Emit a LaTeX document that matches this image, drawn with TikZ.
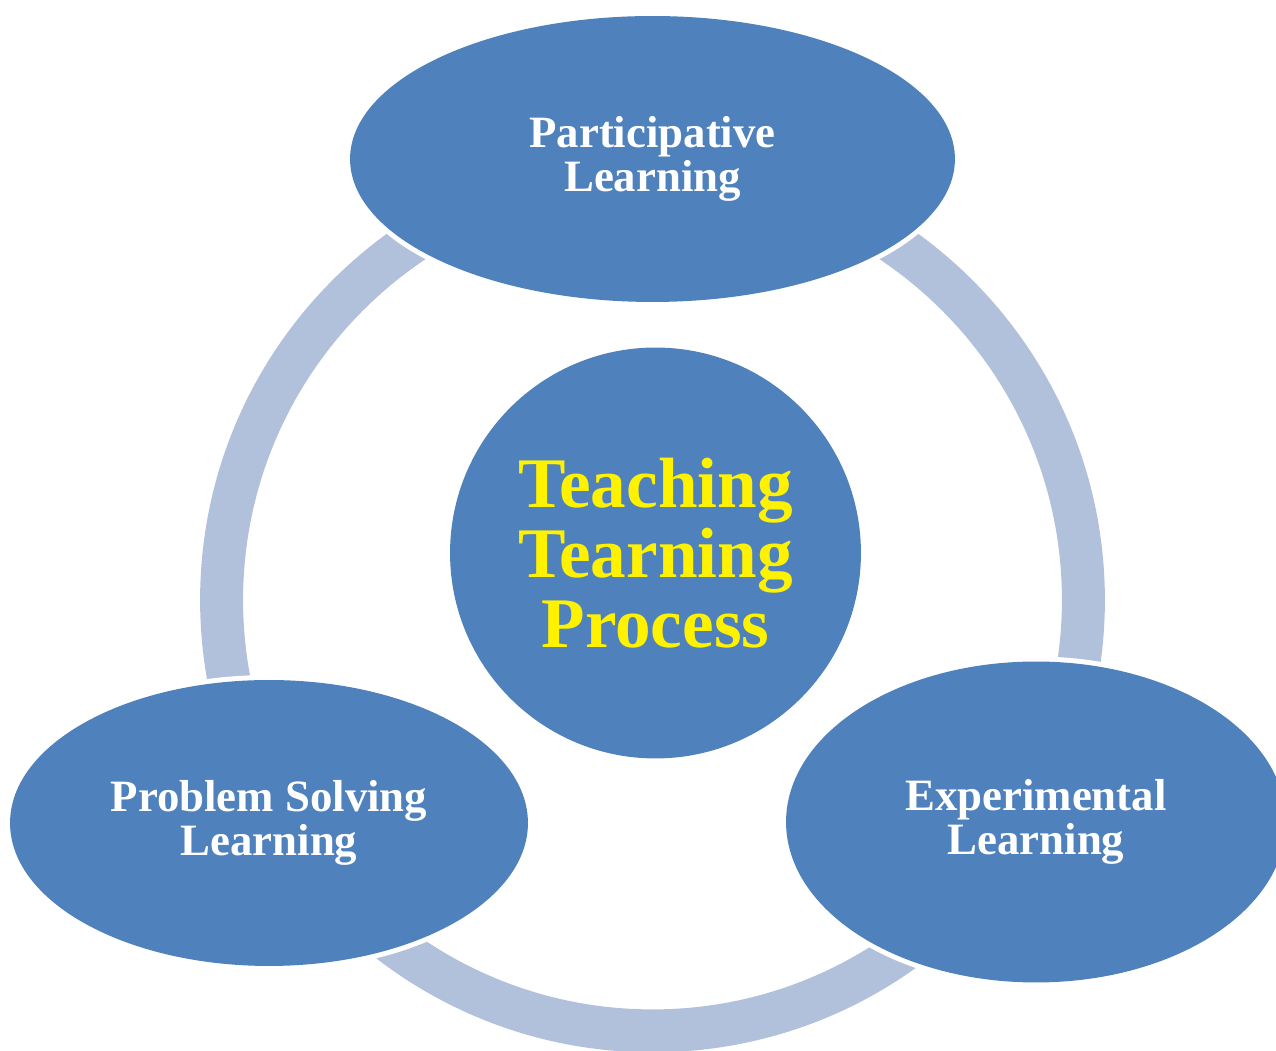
\documentclass[tikz,border=0pt]{standalone}
\usepackage{fontspec}
\setmainfont{Liberation Serif}
\usepackage{xcolor}
\usetikzlibrary{shapes.geometric}
\definecolor{nodeblue}{HTML}{4F81BD}
\definecolor{ringblue}{HTML}{B2C1DB}

\begin{document}
\begin{tikzpicture}[x=0.02cm,y=0.02cm,
  stage/.style={ellipse,fill=nodeblue,inner sep=0pt,text=white,align=center,
    font=\bfseries\fontsize{25.5}{25}\selectfont,
    preaction={draw=white,line width=0.2cm}},
  hub/.style={circle,fill=nodeblue,inner sep=0pt,minimum size=8.22cm,
    text=yellow,align=center,font=\bfseries\fontsize{40.5}{39.7}\selectfont}]
\useasboundingbox (0,0) rectangle (1276,1051);

% Cycle ring behind the stages
\coordinate (ringc) at (652.5,451);
\draw[ringblue,line width=0.86cm] (ringc) circle (8.62cm);

% Stages
\node[stage,minimum width=12.1cm,minimum height=5.72cm] (part) at (652.5,892) {Participative\\Learning};
\node[stage,minimum width=10.36cm,minimum height=5.72cm] (prob) at (269,228) {Problem Solving\\Learning};
\node[stage,minimum width=10cm,minimum height=6.42cm] (expe) at (1036,229) {Experimental\\Learning};

% Centre
\node[hub] (core) at (655.5,498) {Teaching\\Tearning\\Process};
\end{tikzpicture}
\end{document}
